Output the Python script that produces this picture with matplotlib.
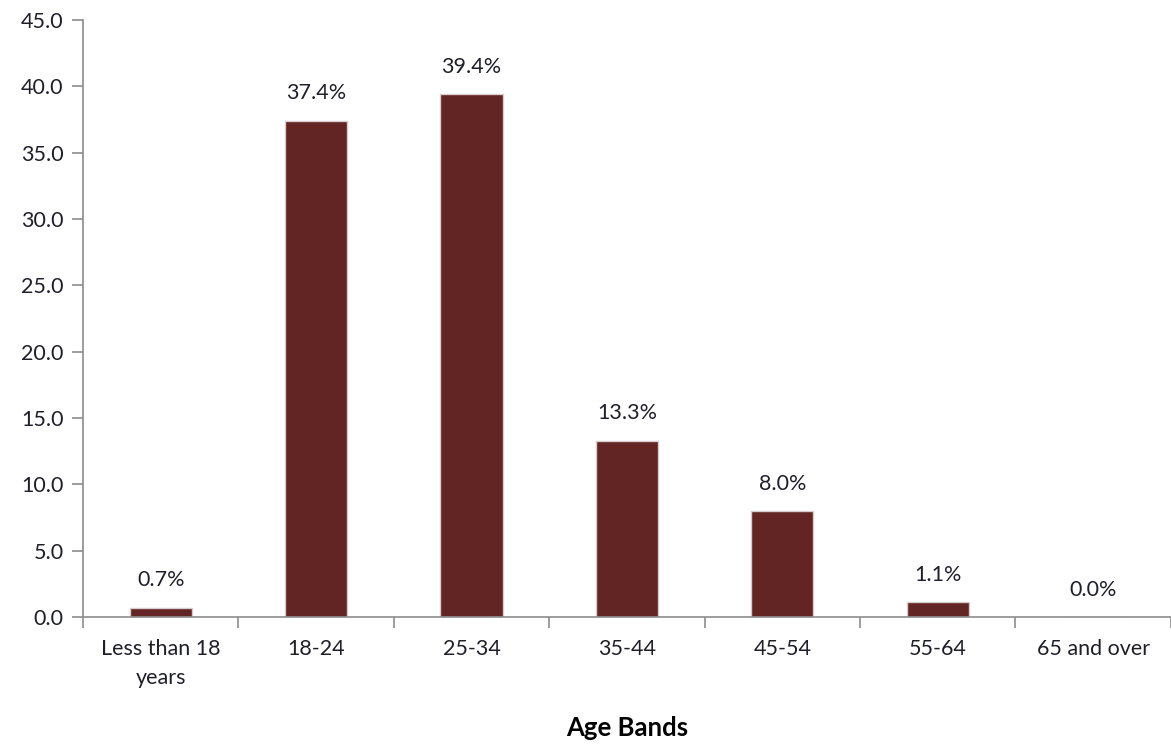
import numpy as np
import matplotlib
matplotlib.use("Agg")
import matplotlib.pyplot as plt

plt.rcParams['font.family'] = ['Lato', 'DejaVu Sans']

categories = ['Less than 18\nyears', '18-24', '25-34', '35-44', '45-54', '55-64', '65 and over']
values = [0.7, 37.4, 39.4, 13.3, 8.0, 1.1, 0.0]
y_ticks = [0, 5, 10, 15, 20, 25, 30, 35, 40, 45]

bar_color = '#632523'
text_color = '#1f1f2a'
axis_color = '#8c8c8c'

fig = plt.figure(figsize=(11.71, 7.47), dpi=100)
ax = fig.add_axes([0.0709, 0.174, 0.929, 0.7994])

x = np.arange(len(categories))
ax.bar(x, values, width=0.4, color=bar_color, edgecolor='#d8cccc', linewidth=1)

for xi, v in zip(x, values):
    ax.text(xi, v + 1.3, f'{v:.1f}%', ha='center', va='bottom', fontsize=15.5, color=text_color)

ax.set_xlim(-0.5, len(categories) - 0.5)
ax.set_ylim(0, 45)
ax.set_yticks(y_ticks)
ax.set_yticklabels([f'{t:.1f}' for t in y_ticks], fontsize=15.5, color=text_color)

ax.set_xticks(x)
ax.set_xticklabels(categories, fontsize=15.5, color=text_color, linespacing=1.55)
ax.tick_params(axis='x', length=0, pad=16)
ax.set_xticks(np.arange(len(categories) + 1) - 0.5, minor=True)
ax.tick_params(axis='x', which='minor', length=8, color=axis_color, width=1.2)
ax.tick_params(axis='y', length=8, color=axis_color, width=1.2, pad=6)

for side in ['top', 'right']:
    ax.spines[side].set_visible(False)
for side in ['left', 'bottom']:
    ax.spines[side].set_color(axis_color)
    ax.spines[side].set_linewidth(1.2)

ax.set_xlabel('Age Bands', fontsize=18.5, fontweight='bold', color='black', labelpad=20)

fig.savefig('out.png', dpi=100)
